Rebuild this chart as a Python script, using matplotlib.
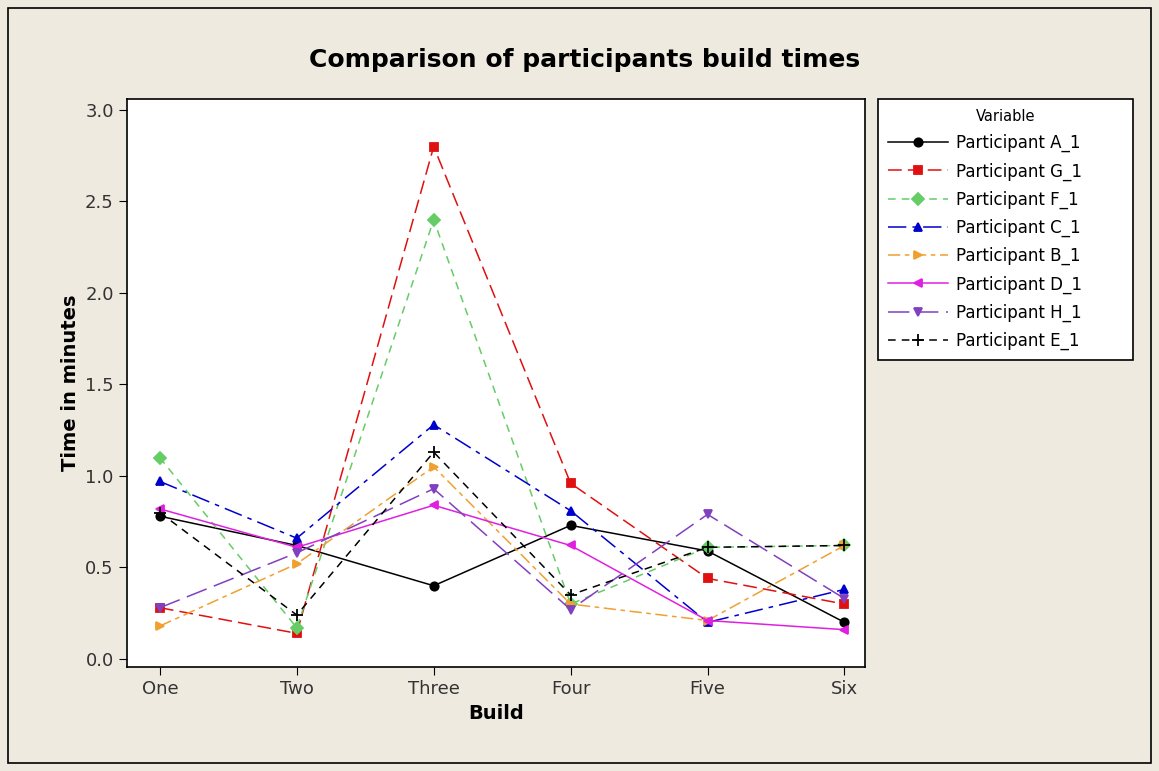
import matplotlib.pyplot as plt
import numpy as np

builds = ["One", "Two", "Three", "Four", "Five", "Six"]

names = ["Participant A_1", "Participant G_1", "Participant F_1", "Participant C_1",
         "Participant B_1", "Participant D_1", "Participant H_1", "Participant E_1"]

part_a = [0.78, 0.62, 0.40, 0.73, 0.59, 0.20]
part_g = [0.28, 0.14, 2.80, 0.96, 0.44, 0.30]
part_f = [1.10, 0.17, 2.40, 0.30, 0.61, 0.62]
part_c = [0.97, 0.66, 1.28, 0.81, 0.20, 0.38]
part_b = [0.18, 0.52, 1.05, 0.30, 0.21, 0.62]
part_d = [0.82, 0.61, 0.84, 0.62, 0.21, 0.16]
part_h = [0.28, 0.58, 0.93, 0.27, 0.79, 0.33]
part_e = [0.80, 0.24, 1.13, 0.35, 0.61, 0.62]

series = [part_a, part_g, part_f, part_c, part_b, part_d, part_h, part_e]
colors = ["black", "#E01010", "#66CC66", "#0000CC", "#F0A030", "#E020E0", "#8040C0", "black"]
markers = ["o", "s", "D", "^", ">", "<", "v", "+"]
styles = ["-", (0, (9, 4)), (0, (5, 4)), (0, (12, 4, 3, 4)), (0, (8, 3, 3, 3)), "-", (0, (14, 5)), (0, (5, 4))]

bg = "#EEEAE0"
fig = plt.figure(figsize=(11.59, 7.71), dpi=100, facecolor=bg)
ax = fig.add_axes([127 / 1159, 1 - 667 / 771, 738 / 1159, 568 / 771])

x = np.arange(len(builds))
for vals, name, c, m, ls in zip(series, names, colors, markers, styles):
    ms = 9 if m == "+" else 6
    ax.plot(x, vals, color=c, marker=m, ls=ls, lw=1.1, ms=ms, mew=1.3, label=name)

ax.set_xlim(-0.24, 5.15)
ax.set_ylim(-0.044, 3.06)
ax.set_xticks(x)
ax.set_xticklabels(builds)
ax.set_yticks(np.arange(0, 3.01, 0.5))
ax.set_yticklabels(["%.1f" % v for v in np.arange(0, 3.01, 0.5)])
ax.tick_params(direction="out", length=6, labelsize=13, labelcolor="#333333")
ax.set_xlabel("Build", fontsize=14, fontweight="bold")
ax.set_ylabel("Time in minutes", fontsize=14, fontweight="bold")
for s in ax.spines.values():
    s.set_linewidth(1.2)

fig.text(585 / 1159, 1 - 60 / 771, "Comparison of participants build times",
         ha="center", va="center", fontsize=18, fontweight="bold")

leg_top = 1 - 99 / 771
leg = ax.legend(loc="upper left", bbox_to_anchor=(878 / 1159, leg_top - 0.1, 255 / 1159, 0.1),
                bbox_transform=fig.transFigure, mode="expand", title="Variable", fontsize=12,
                title_fontsize=10.5, fancybox=False, edgecolor="black", framealpha=1,
                handlelength=3.6, borderpad=0.6, labelspacing=0.6, handletextpad=0.5,
                borderaxespad=0)
leg.get_frame().set_linewidth(1.2)

# outer frame
fig.add_artist(plt.Rectangle((8 / 1159, 8 / 771), 1143 / 1159, 755 / 771, fill=False,
                             ec="black", lw=1.2, transform=fig.transFigure))

fig.savefig("out.png", dpi=100, facecolor=bg)
